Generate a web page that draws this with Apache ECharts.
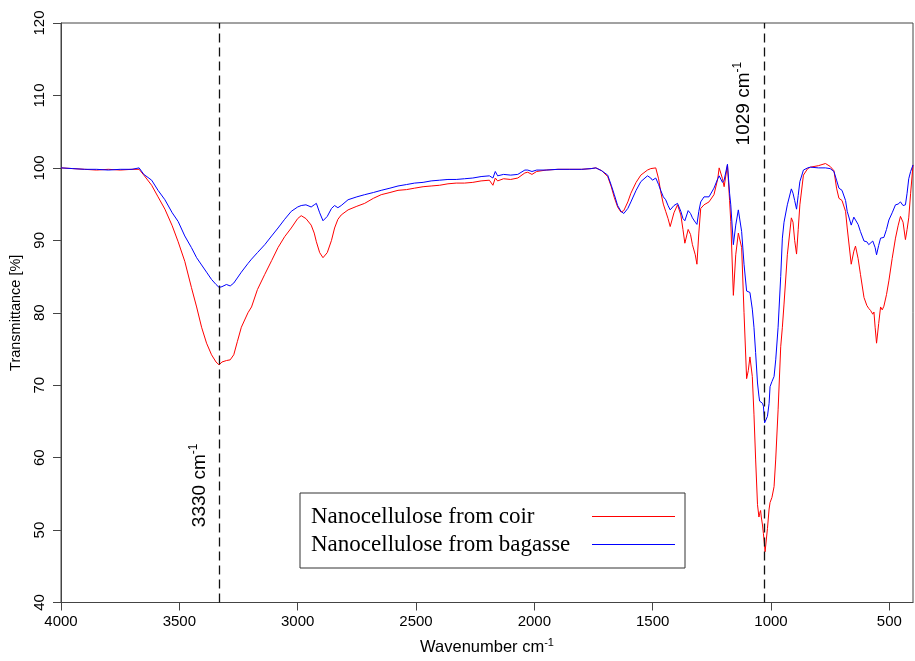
<!DOCTYPE html>
<html>
<head>
<meta charset="utf-8">
<script src="https://cdn.jsdelivr.net/npm/echarts@6/dist/echarts.min.js"></script>
<style>
html,body{margin:0;padding:0;background:#fff;}
#chart{width:915px;height:661px;}
</style>
</head>
<body>
<div id="chart"></div>
<script>
// Wavenumbers (cm^-1) shared by both spectra
const wavenumbers = [4000,3950,3900,3850,3800,3750,3700,3670,3650,3617,3590,3561,3530,3505,3477,3449,3427,3406,3385,3364,3345,3332,3320,3301,3285,3270,3255,3238,3210,3195,3170,3139,3110,3083,3055,3027,3000,2985,2965,2943,2930,2921,2907,2893,2875,2857,2844,2830,2816,2787,2750,2717,2680,2647,2610,2576,2540,2506,2470,2436,2400,2365,2330,2295,2260,2225,2190,2175,2165,2155,2130,2100,2070,2040,2028,2010,1990,1950,1900,1850,1800,1760,1740,1715,1690,1675,1662,1648,1634,1622,1605,1592,1570,1550,1522,1508,1501,1487,1475,1466,1455,1445,1435,1426,1410,1395,1381,1372,1364,1350,1340,1332,1320,1313,1305,1297,1283,1262,1241,1225,1219,1205,1198,1184,1175,1170,1159,1149,1138,1124,1114,1103,1096,1089,1079,1072,1065,1057,1051,1048,1044,1041,1036,1032,1027,1025,1015,1008,1004,996,987,980,970,959,952,945,931,914,907,900,892,885,878,863,845,833,800,770,750,734,723,713,700,692,685,678,661,650,643,632,622,607,595,587,579,570,565,560,554,545,537,530,523,512,502,488,474,463,453,442,432,425,418,410,400];
// Transmittance [%] – nanocellulose from coir (red)
const coir = [100.0,99.9,99.8,99.7,99.8,99.7,99.8,99.8,99.0,97.6,96.0,94.3,92.0,89.8,87.1,83.5,80.8,78.0,75.8,74.2,73.2,72.8,73.2,73.4,73.5,74.2,76.0,78.0,80.0,80.8,83.2,85.3,87.2,89.0,90.5,91.7,93.0,93.4,93.0,92.1,91.0,89.8,88.3,87.6,88.3,90.0,91.7,92.9,93.5,94.2,94.7,95.1,95.8,96.3,96.6,96.9,97.0,97.2,97.4,97.5,97.6,97.8,97.9,97.9,98.0,98.2,98.3,97.6,98.6,98.2,98.5,98.4,98.6,99.3,99.4,99.1,99.5,99.7,99.8,99.8,99.8,99.9,100.0,99.6,98.8,97.4,95.9,94.6,93.9,94.1,95.3,96.5,98.0,99.0,99.7,99.9,100.0,100.0,98.5,96.7,95.0,94.0,93.0,91.9,93.8,94.9,93.5,91.5,89.6,91.5,90.8,89.4,88.0,86.7,91.0,94.4,94.9,95.3,96.3,98.5,100.0,98.5,97.4,100.4,95.5,92.6,82.4,88.0,91.0,89.0,80.0,70.9,72.0,73.9,71.2,66.0,59.8,53.5,51.8,52.3,52.7,51.8,50.7,49.5,47.8,47.0,50.2,52.9,53.8,54.5,56.0,59.8,66.6,75.3,78.0,81.2,88.0,93.1,92.5,90.0,88.1,91.5,94.9,99.0,99.9,100.1,100.3,100.6,100.2,99.6,97.2,95.8,95.5,95.6,94.0,91.7,86.7,88.5,89.2,87.5,85.3,82.1,81.0,80.6,80.3,79.8,80.1,78.0,75.8,78.5,80.8,80.4,80.9,82.5,84.4,87.5,90.3,92.0,93.3,92.5,90.1,91.5,93.1,96.5,100.4];
// Transmittance [%] – nanocellulose from bagasse (blue)
const bagasse = [100.0,99.9,99.8,99.8,99.7,99.8,99.8,100.0,99.1,98.3,96.9,95.6,93.8,92.6,90.6,89.0,87.6,86.6,85.6,84.6,83.9,83.5,83.6,83.9,83.7,84.1,84.8,85.6,86.8,87.4,88.3,89.4,90.6,91.7,92.9,94.0,94.6,94.8,94.9,94.6,94.9,95.1,93.8,92.7,93.3,94.4,94.8,94.5,94.8,95.6,96.0,96.3,96.6,96.9,97.2,97.5,97.7,97.9,98.0,98.2,98.3,98.4,98.4,98.5,98.6,98.8,98.9,98.6,99.5,98.9,99.1,99.0,99.1,99.7,99.7,99.5,99.7,99.7,99.8,99.8,99.8,99.9,100.0,99.6,99.0,97.6,96.3,94.8,94.0,93.7,94.4,95.3,96.9,98.1,98.9,98.6,98.3,98.6,97.7,96.9,96.0,95.6,94.8,94.2,94.8,95.1,94.0,93.0,92.7,94.1,93.7,93.1,92.5,92.2,94.0,95.3,96.0,96.0,97.2,98.5,98.9,98.0,98.3,100.5,96.5,94.9,89.4,92.1,94.2,91.2,86.7,83.0,83.0,82.8,80.5,78.0,74.5,70.3,68.5,67.8,67.9,67.9,67.5,67.1,64.8,65.0,65.7,67.5,69.8,70.5,71.2,73.5,78.0,85.0,90.3,92.5,94.9,97.1,96.5,95.5,94.3,96.2,98.1,99.7,100.0,100.1,100.0,100.0,99.9,99.5,98.3,97.2,96.9,96.9,95.5,94.0,92.1,93.2,93.3,92.2,91.2,89.9,89.8,89.4,89.6,89.9,89.9,89.0,88.0,89.3,90.3,90.1,90.4,91.5,92.8,93.8,94.9,95.0,95.3,94.8,94.9,96.5,98.5,99.5,100.4];
const xTickValues = [500,1000,1500,2000,2500,3000,3500,4000];
const seriesNames = ['Nanocellulose from coir','Nanocellulose from bagasse'];
const markedPeaks = [3330, 1029];
const peakLabels = ['3330 cm', '1029 cm'];

const chart = echarts.init(document.getElementById('chart'), null, {renderer:'canvas'});
const sans = 'Liberation Sans, Arial, sans-serif';
const serif = 'Liberation Serif, Times New Roman, serif';
const axisCol = '#444';

function pairs(vals){ return wavenumbers.map((w,i)=>[w, vals[i]]); }

const option = {
  animation:false,
  backgroundColor:'#fff',
  grid:{left:59,right:2,top:23,bottom:53,show:true,borderColor:axisCol,borderWidth:1,backgroundColor:'transparent'},
  legend:{
    orient:'vertical', left:300, top:493, align:'right',
    padding:[12,10,12,11], itemGap:5, itemWidth:83, itemHeight:1.2, icon:'rect',
    borderColor:'#333', borderWidth:1, backgroundColor:'#fff',
    data:seriesNames,
    formatter: n => '{t|' + n + '}',
    textStyle:{color:'#000', fontSize:23, lineHeight:23, rich:{t:{width:276, align:'left', fontSize:23, fontFamily:serif, lineHeight:23, color:'#000'}}}
  },
  xAxis:{
    type:'value', inverse:true, min:400, max:4000,
    axisLine:{show:true, onZero:false, lineStyle:{color:axisCol,width:1}},
    axisTick:{show:true, length:8, lineStyle:{color:axisCol}, customValues:xTickValues},
    axisLabel:{fontSize:15, fontFamily:sans, color:'#000', margin:12, customValues:xTickValues, formatter: v => String(v)},
    splitLine:{show:false},
    name:'{a|Wavenumber cm}{s|-1}', nameLocation:'middle', nameGap:35,
    nameTextStyle:{rich:{a:{fontSize:16.5, fontFamily:sans, color:'#000', lineHeight:20}, s:{fontSize:11, fontFamily:sans, color:'#000', lineHeight:12, verticalAlign:'top'}}}
  },
  yAxis:{
    type:'value', min:40, max:120, interval:10,
    axisLine:{show:true, onZero:false, lineStyle:{color:axisCol,width:1}},
    axisTick:{show:true, length:8, lineStyle:{color:axisCol}},
    axisLabel:{fontSize:15, fontFamily:sans, color:'#000', margin:14, rotate:90, formatter: v => String(v)},
    splitLine:{show:false},
    name:'Transmittance [%]', nameLocation:'middle', nameGap:38,
    nameTextStyle:{fontSize:14.5, fontFamily:sans, color:'#000'}
  },
  series:[
    {name:seriesNames[0], type:'line', data:pairs(coir), symbol:'none', showSymbol:false,
     lineStyle:{color:'#ff0000', width:1}, itemStyle:{color:'#ff0000'},
     markLine:{silent:true, symbol:['none','none'], label:{show:false},
       lineStyle:{color:'#111', width:1.3, type:[9,5]},
       data:markedPeaks.map(p=>({xAxis:p}))}},
    {name:seriesNames[1], type:'line', data:pairs(bagasse), symbol:'none', showSymbol:false,
     lineStyle:{color:'#0000ff', width:1}, itemStyle:{color:'#0000ff'}}
  ]
};
chart.setOption(option);

// Rotated peak annotations anchored to data coordinates
const labelAnchors = [[3330, 50.4], [1029, 103.1]];
const labelOffsets = [-8, -8];
const graphics = labelAnchors.map((a,i)=>{
  const p = chart.convertToPixel({gridIndex:0}, a);
  return {
    type:'text', x:p[0]+labelOffsets[i], y:p[1], rotation:Math.PI/2, silent:true,
    style:{
      text:'{a|' + peakLabels[i] + '}{s|-1}',
      align:'left', verticalAlign:'bottom',
      rich:{a:{fontSize:19, fontFamily:sans, fill:'#000', lineHeight:24}, s:{fontSize:12, fontFamily:sans, fill:'#000', lineHeight:12, verticalAlign:'top'}}
    }
  };
});
chart.setOption({graphic:graphics});
</script>
</body>
</html>
